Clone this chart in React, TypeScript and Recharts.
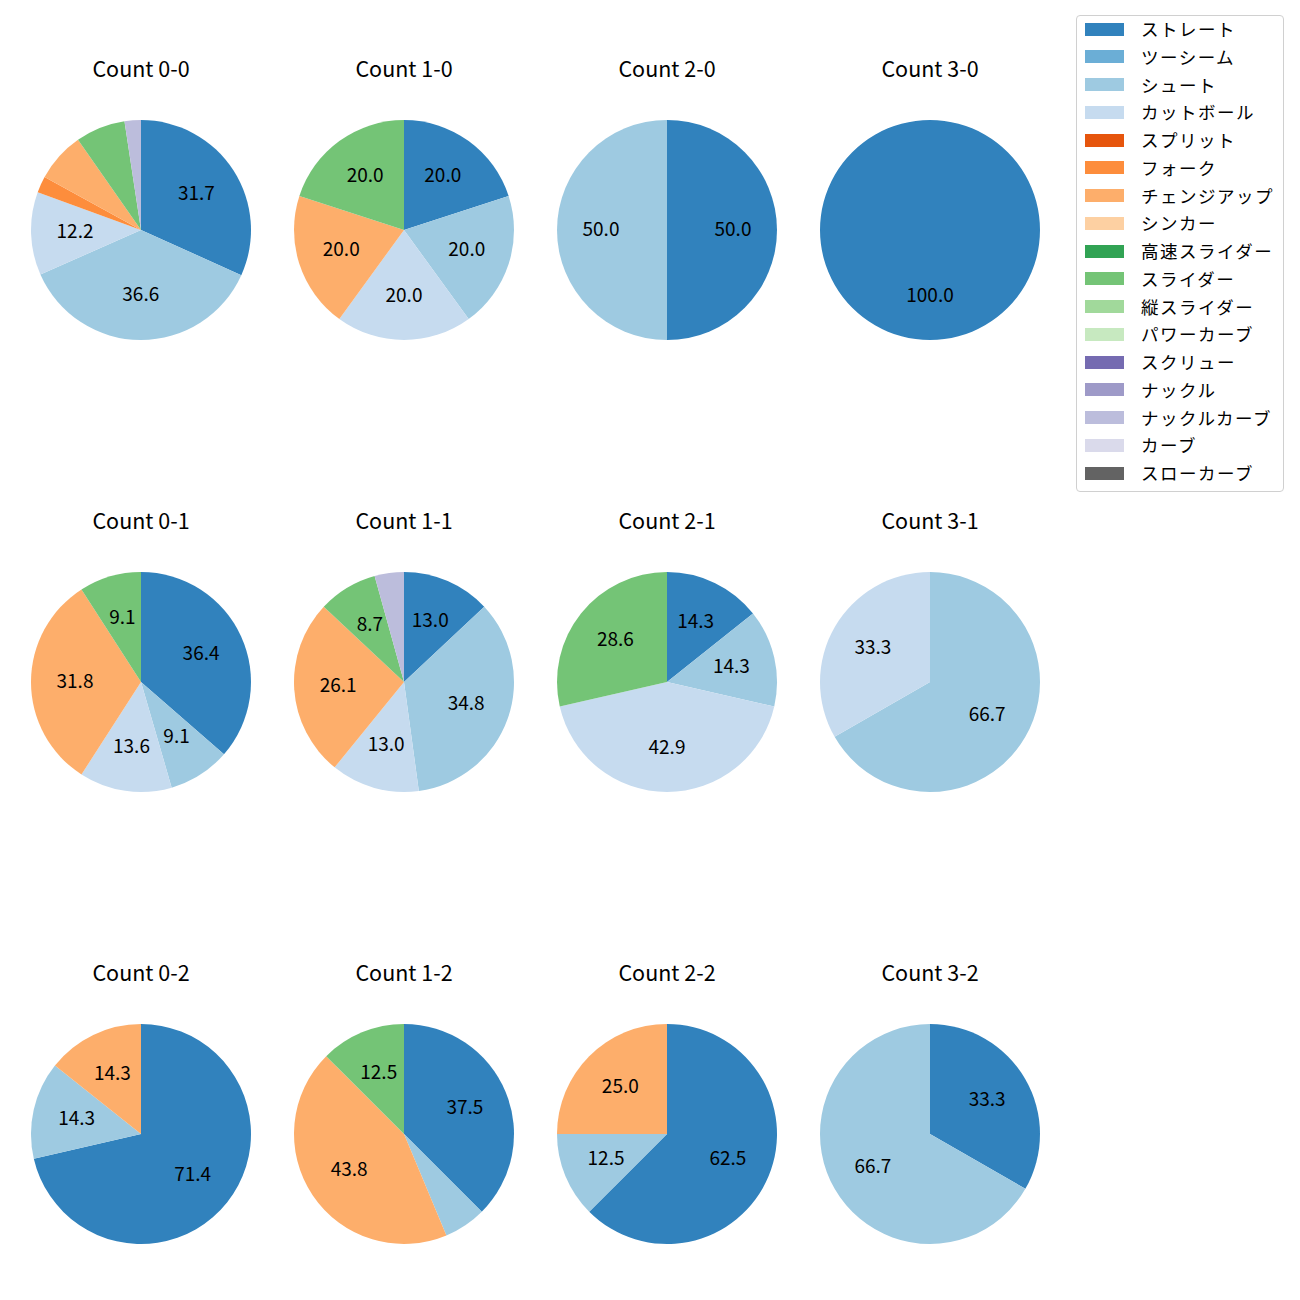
import React from "react";
import { Cell, Pie, PieChart } from "recharts";

/** カウント別の球種割合（%）。matplotlib の tab20c 配色に合わせる。 */
const pitchTypes = [
  "ストレート",
  "ツーシーム",
  "シュート",
  "カットボール",
  "スプリット",
  "フォーク",
  "チェンジアップ",
  "シンカー",
  "高速スライダー",
  "スライダー",
  "縦スライダー",
  "パワーカーブ",
  "スクリュー",
  "ナックル",
  "ナックルカーブ",
  "カーブ",
  "スローカーブ",
];

const colors = [
  "#3182bd", "#6baed6", "#9ecae1", "#c6dbef",
  "#e6550d", "#fd8d3c", "#fdae6b", "#fdd0a2",
  "#31a354", "#74c476", "#a1d99b", "#c7e9c0",
  "#756bb1", "#9e9ac8", "#bcbddc", "#dadaeb",
  "#636363",
];

// 並び順は pitchTypes と同じ（0 は描かない）
const count00 = [31.7, 0, 36.6, 12.2, 0, 2.4, 7.3, 0, 0, 7.3, 0, 0, 0, 0, 2.4, 0, 0];
const count10 = [20.0, 0, 20.0, 20.0, 0, 0, 20.0, 0, 0, 20.0, 0, 0, 0, 0, 0, 0, 0];
const count20 = [50.0, 0, 50.0, 0, 0, 0, 0, 0, 0, 0, 0, 0, 0, 0, 0, 0, 0];
const count30 = [100.0, 0, 0, 0, 0, 0, 0, 0, 0, 0, 0, 0, 0, 0, 0, 0, 0];
const count01 = [36.4, 0, 9.1, 13.6, 0, 0, 31.8, 0, 0, 9.1, 0, 0, 0, 0, 0, 0, 0];
const count11 = [13.0, 0, 34.8, 13.0, 0, 0, 26.1, 0, 0, 8.7, 0, 0, 0, 0, 4.3, 0, 0];
const count21 = [14.3, 0, 14.3, 42.9, 0, 0, 0, 0, 0, 28.6, 0, 0, 0, 0, 0, 0, 0];
const count31 = [0, 0, 66.7, 33.3, 0, 0, 0, 0, 0, 0, 0, 0, 0, 0, 0, 0, 0];
const count02 = [71.4, 0, 14.3, 0, 0, 0, 14.3, 0, 0, 0, 0, 0, 0, 0, 0, 0, 0];
const count12 = [37.5, 0, 6.2, 0, 0, 0, 43.8, 0, 0, 12.5, 0, 0, 0, 0, 0, 0, 0];
const count22 = [62.5, 0, 12.5, 0, 0, 0, 25.0, 0, 0, 0, 0, 0, 0, 0, 0, 0, 0];
const count32 = [33.3, 0, 66.7, 0, 0, 0, 0, 0, 0, 0, 0, 0, 0, 0, 0, 0, 0];

const counts = [
  { title: "Count 0-0", values: count00 },
  { title: "Count 1-0", values: count10 },
  { title: "Count 2-0", values: count20 },
  { title: "Count 3-0", values: count30 },
  { title: "Count 0-1", values: count01 },
  { title: "Count 1-1", values: count11 },
  { title: "Count 2-1", values: count21 },
  { title: "Count 3-1", values: count31 },
  { title: "Count 0-2", values: count02 },
  { title: "Count 1-2", values: count12 },
  { title: "Count 2-2", values: count22 },
  { title: "Count 3-2", values: count32 },
];

const FONT = '"Noto Sans CJK JP", "Noto Sans", sans-serif';
const colX = [141, 404, 667, 930];
const rowY = [230, 682, 1134];
const R = 110;
const RAD = Math.PI / 180;

const etiqueta = (p: any) => {
  const { cx, cy, midAngle, outerRadius, value } = p;
  if (value < 8) return null;
  const r = outerRadius * 0.6;
  const x = cx + r * Math.cos(-midAngle * RAD);
  const y = cy + r * Math.sin(-midAngle * RAD) - 3;
  return (
    <text x={x} y={y} textAnchor="middle" dominantBaseline="central" fontSize={19} fontFamily={FONT} fill="#000">
      {value.toFixed(1)}
    </text>
  );
};

export default function App() {
  return (
    <div style={{ position: "absolute", left: 0, top: 0, width: 1300, height: 1300, background: "#fff" }}>
      <PieChart width={1300} height={1300} margin={{ top: 0, right: 0, bottom: 0, left: 0 }}>
        {counts.map((c, i) => {
          const dados = c.values
            .map((v, k) => ({ name: pitchTypes[k], value: v, color: colors[k] }))
            .filter((d) => d.value > 0);
          return (
            <Pie
              key={c.title}
              data={dados}
              dataKey="value"
              nameKey="name"
              cx={colX[i % 4]}
              cy={rowY[Math.floor(i / 4)]}
              outerRadius={R}
              startAngle={90}
              endAngle={-270}
              stroke="none"
              label={etiqueta}
              labelLine={false}
              isAnimationActive={false}
            >
              {dados.map((d) => (
                <Cell key={d.name} fill={d.color} />
              ))}
            </Pie>
          );
        })}
      </PieChart>

      {counts.map((c, i) => (
        <div
          key={c.title}
          style={{
            position: "absolute",
            left: colX[i % 4] - 100,
            width: 200,
            top: rowY[Math.floor(i / 4)] - 161 - 16,
            height: 30,
            lineHeight: "30px",
            textAlign: "center",
            fontFamily: FONT,
            fontSize: 21.5,
            color: "#000",
          }}
        >
          {c.title}
        </div>
      ))}

      <div
        style={{
          position: "absolute",
          left: 1076,
          top: 15,
          width: 206,
          height: 475,
          border: "1px solid #d0d0d0",
          borderRadius: 4,
          fontFamily: FONT,
          fontSize: 17.5,
        }}
      >
        {pitchTypes.map((p, k) => (
          <div
            key={p}
            style={{ position: "absolute", left: 0, top: 14 + k * 27.75 - 13, height: 24, display: "flex", alignItems: "center" }}
          >
            <div style={{ width: 39, height: 13, marginLeft: 8, background: colors[k] }} />
            <span style={{ marginLeft: 17, color: "#000", whiteSpace: "nowrap", lineHeight: "24px", letterSpacing: 1.5 }}>{p}</span>
          </div>
        ))}
      </div>
    </div>
  );
}
